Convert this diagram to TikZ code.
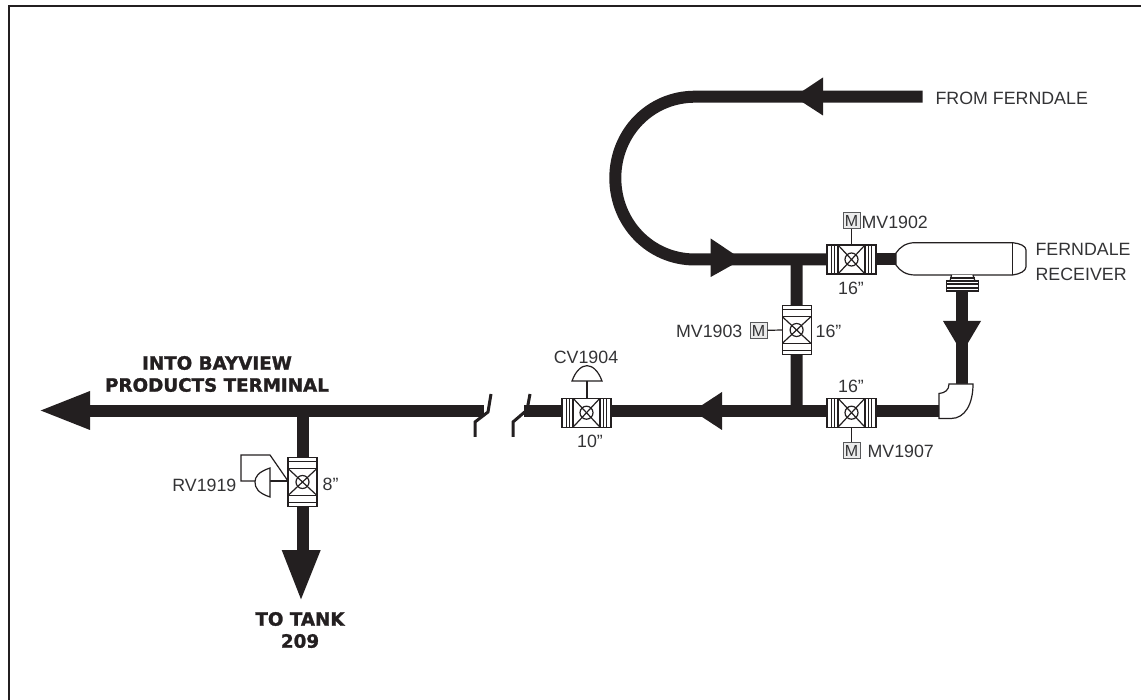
\documentclass[tikz,border=0pt]{standalone}
\usepackage{fontspec}
\setmainfont{Liberation Sans}
\newfontfamily\heavyfont[BoldFeatures={FakeBold=1.4}]{DejaVu Sans}
\usetikzlibrary{positioning, arrows.meta, calc}
\definecolor{figink}{HTML}{231F20}
\definecolor{figbox}{HTML}{58595B}
\definecolor{figtxt}{HTML}{333335}

\begin{document}
\begin{tikzpicture}[
  x=1pt, y=-1pt,
  line width=1.2pt, line join=miter,
  pipe/.style = {draw=figink, line width=12pt},
  tip/.style = {fill=figink, draw=none},
  thin/.style = {draw=figink, line width=1.2pt},
  brk/.style = {draw=figink, line width=3pt},
  valveh/.style = {thin, fill=white, rectangle, minimum width=49pt, minimum height=29pt,
                inner sep=0pt, outer sep=0pt, path picture={
    \foreach \d in {4.3,7.6,11} {
      \draw[thin] ([xshift=\d pt]path picture bounding box.north west) -- ([xshift=\d pt]path picture bounding box.south west);
      \draw[thin] ([xshift=-\d pt]path picture bounding box.north east) -- ([xshift=-\d pt]path picture bounding box.south east);
    }
    \draw[thin] ([xshift=11pt]path picture bounding box.north west) -- ([xshift=-11pt]path picture bounding box.south east);
    \draw[thin] ([xshift=11pt]path picture bounding box.south west) -- ([xshift=-11pt]path picture bounding box.north east);
    \draw[thin] (path picture bounding box.center) circle (6.5pt);
  }},
  valvev/.style = {thin, fill=white, rectangle, minimum width=29pt, minimum height=49pt,
                inner sep=0pt, outer sep=0pt, path picture={
    \foreach \d in {4.3,11} {
      \draw[thin] ([yshift=-\d pt]path picture bounding box.north west) -- ([yshift=-\d pt]path picture bounding box.north east);
      \draw[thin] ([yshift=\d pt]path picture bounding box.south west) -- ([yshift=\d pt]path picture bounding box.south east);
    }
    \draw[thin] ([yshift=-11pt]path picture bounding box.north west) -- ([yshift=11pt]path picture bounding box.south east);
    \draw[thin] ([yshift=11pt]path picture bounding box.south west) -- ([yshift=-11pt]path picture bounding box.north east);
    \draw[thin] (path picture bounding box.center) circle (6.5pt);
  }},
  motor/.style = {draw=figbox, line width=1pt, fill=black!8, rectangle, minimum width=17pt,
                minimum height=16pt, inner sep=0pt, font=\fontsize{16}{16}\selectfont, text=figtxt},
  lbl/.style = {font=\fontsize{17.8}{20}\selectfont, text=figtxt, inner sep=0pt},
  head/.style = {font=\heavyfont\bfseries\fontsize{18.3}{22}\selectfont, text=figink, inner sep=0pt,
                align=center}
]
\useasboundingbox (0,0) rectangle (1141,700);

% frame
\draw[draw=figink, line width=2pt] (8.5,700) -- (8.5,6) -- (1141,6);

% valves
\node[valveh] (mv1902) at (851.5,259.5) {};
\node[valveh] (mv1907) at (851.5,412.7) {};
\node[valveh] (cv1904) at (586.5,412.7) {};
\node[valvev] (mv1903) at (796.6,330) {};
\node[valvev] (rv1919) at (302.5,482) {};

\coordinate (juncTop) at (796.5,259.5);
\coordinate (juncMain) at (796.5,411);
\coordinate (juncTank) at (302.5,411);
\coordinate (loopTop) at (695,96.7);
\coordinate (loopEnd) at (695,259.5);
\coordinate (elbowIn) at (962,384);
\coordinate (elbowOut) at (939,411);
\coordinate (recvIn) at (896,259.5);
\coordinate (recvOut) at (962,291);
\coordinate (fromEnd) at (922.5,96.7);
\coordinate (mainEnd) at (90,411);
\coordinate (tankEnd) at (302.5,550);
\coordinate (brkL) at (484,411);
\coordinate (brkR) at (524,411);

% piping
\draw[pipe] (fromEnd) -- (loopTop) .. controls (650,96.7) and (615.3,133) .. (615.3,178)
  .. controls (615.3,223) and (650,259.5) .. (loopEnd) -- (mv1902.west);
\draw[pipe] (mv1902.east) -- (recvIn);
\draw[pipe] (juncTop) -- (mv1903.north);
\draw[pipe] (mv1903.south) -- (juncMain);
\draw[pipe] (recvOut) -- (elbowIn);
\draw[pipe] (elbowOut) -- (mv1907.east |- elbowOut);
\draw[pipe] (mv1907.west |- juncMain) -- (cv1904.east |- juncMain);
\draw[pipe] (cv1904.west |- juncMain) -- (brkR);
\draw[pipe] (brkL) -- (mainEnd);
\draw[pipe] (juncTank) -- (rv1919.north);
\draw[pipe] (rv1919.south) -- (tankEnd);

% flow arrows
\fill[tip] (823,77.5) -- (794,96.7) -- (823,115.5) -- cycle;
\fill[tip] (710.7,238.5) -- (742,259.5) -- (710.7,277) -- cycle;
\fill[tip] (722,392) -- (693,411) -- (722,430) -- cycle;
\fill[tip] (943,321) -- (962,353) -- (981,321) -- cycle;
\fill[tip] (90,391) -- (40.7,410.5) -- (90,430) -- cycle;
\fill[tip] (281.7,550) -- (301,599.3) -- (320.7,550) -- cycle;

% line break
\draw[brk] (475,437) -- (475,422) -- (488,412) -- (491,394);
\draw[brk] (513,437) -- (513,422) -- (527,410) -- (530,394);

% receiver
\draw[thin, fill=white] (896,253) .. controls (900,247) and (906,242.7) .. (915,242.7) -- (1012.7,242.7)
  .. controls (1020,243.5) and (1026,246) .. (1026,250) -- (1026,266.7)
  .. controls (1026,271) and (1020,274) .. (1012.7,275) -- (915,275)
  .. controls (906,275) and (900,271) .. (896,265) -- cycle;
\draw[thin] (1012.7,242.7) -- (1012.7,275);
\draw[thin, fill=white] (951.5,275) -- (950,281) -- (975,281) -- (973,275);
\draw[thin] (950,278) -- (975,278);
\draw[thin, fill=white] (946.7,281) rectangle (978.3,291);
\draw[thin] (946.7,284) -- (978.3,284);
\draw[thin] (946.7,288) -- (978.3,288);

% elbow
\draw[thin, fill=white] (939,418.5) -- (951,418.5) .. controls (965,418.5) and (973,404) .. (973,384)
  -- (949,384) .. controls (949,390) and (945,393) .. (939,393.5) -- cycle;

% actuators
\node[motor] (m1902) at (851.5,221) {M};
\node[motor] (m1903) at (758.5,330.5) {M};
\node[motor] (m1907) at (851.5,450.5) {M};
\draw[thin] (m1902) -- (mv1902.north);
\draw[thin] (m1903) -- (mv1903.west);
\draw[thin] (m1907) -- (mv1907.south);

\coordinate (cvDome) at (587,381);
\draw[thin, fill=white] (572,381) -- (602,381) .. controls (598,370) and (592,365.7) .. (587,365.7)
  .. controls (582,365.7) and (576,370) .. (572,381) -- cycle;
\draw[thin] (cvDome) -- (cv1904.north -| cvDome);

\coordinate (rvStem) at (270,481);
\coordinate (rvLoop) at (241,481);
\draw[thin] (rvStem) -- (rv1919.west |- rvStem);
\draw[thin] (255,481) -- (rvLoop) -- (241,455) -- (270,455) -- (rv1919.west |- rvStem);
\draw[thin, fill=white] (270,468) .. controls (258,472) and (255,477) .. (255,482)
  .. controls (255,488) and (258,493) .. (270,497) -- cycle;

% labels
\node[lbl, anchor=west] (from) at (935,98) {FROM FERNDALE};
\node[lbl, anchor=west] (recv1) at (1035,249) {FERNDALE};
\node[lbl, anchor=west] (recv2) at (1035,274) {RECEIVER};
\node[lbl, anchor=west] at (861,222) {MV1902};
\node[lbl, anchor=east] at (743,331) {MV1903};
\node[lbl, anchor=west] at (867,451) {MV1907};
\node[lbl] at (586,357) {CV1904};
\node[lbl, anchor=east] at (237,485) {RV1919};
\node[lbl] at (851,288) {16"};
\node[lbl, anchor=west] at (815,331) {16"};
\node[lbl] at (851,386) {16"};
\node[lbl] at (590,441) {10"};
\node[lbl, anchor=west] at (322,484) {8"};
\node[head] at (217,374) {INTO BAYVIEW\\PRODUCTS TERMINAL};
\node[head] at (300,630) {TO TANK\\209};

\end{tikzpicture}
\end{document}
